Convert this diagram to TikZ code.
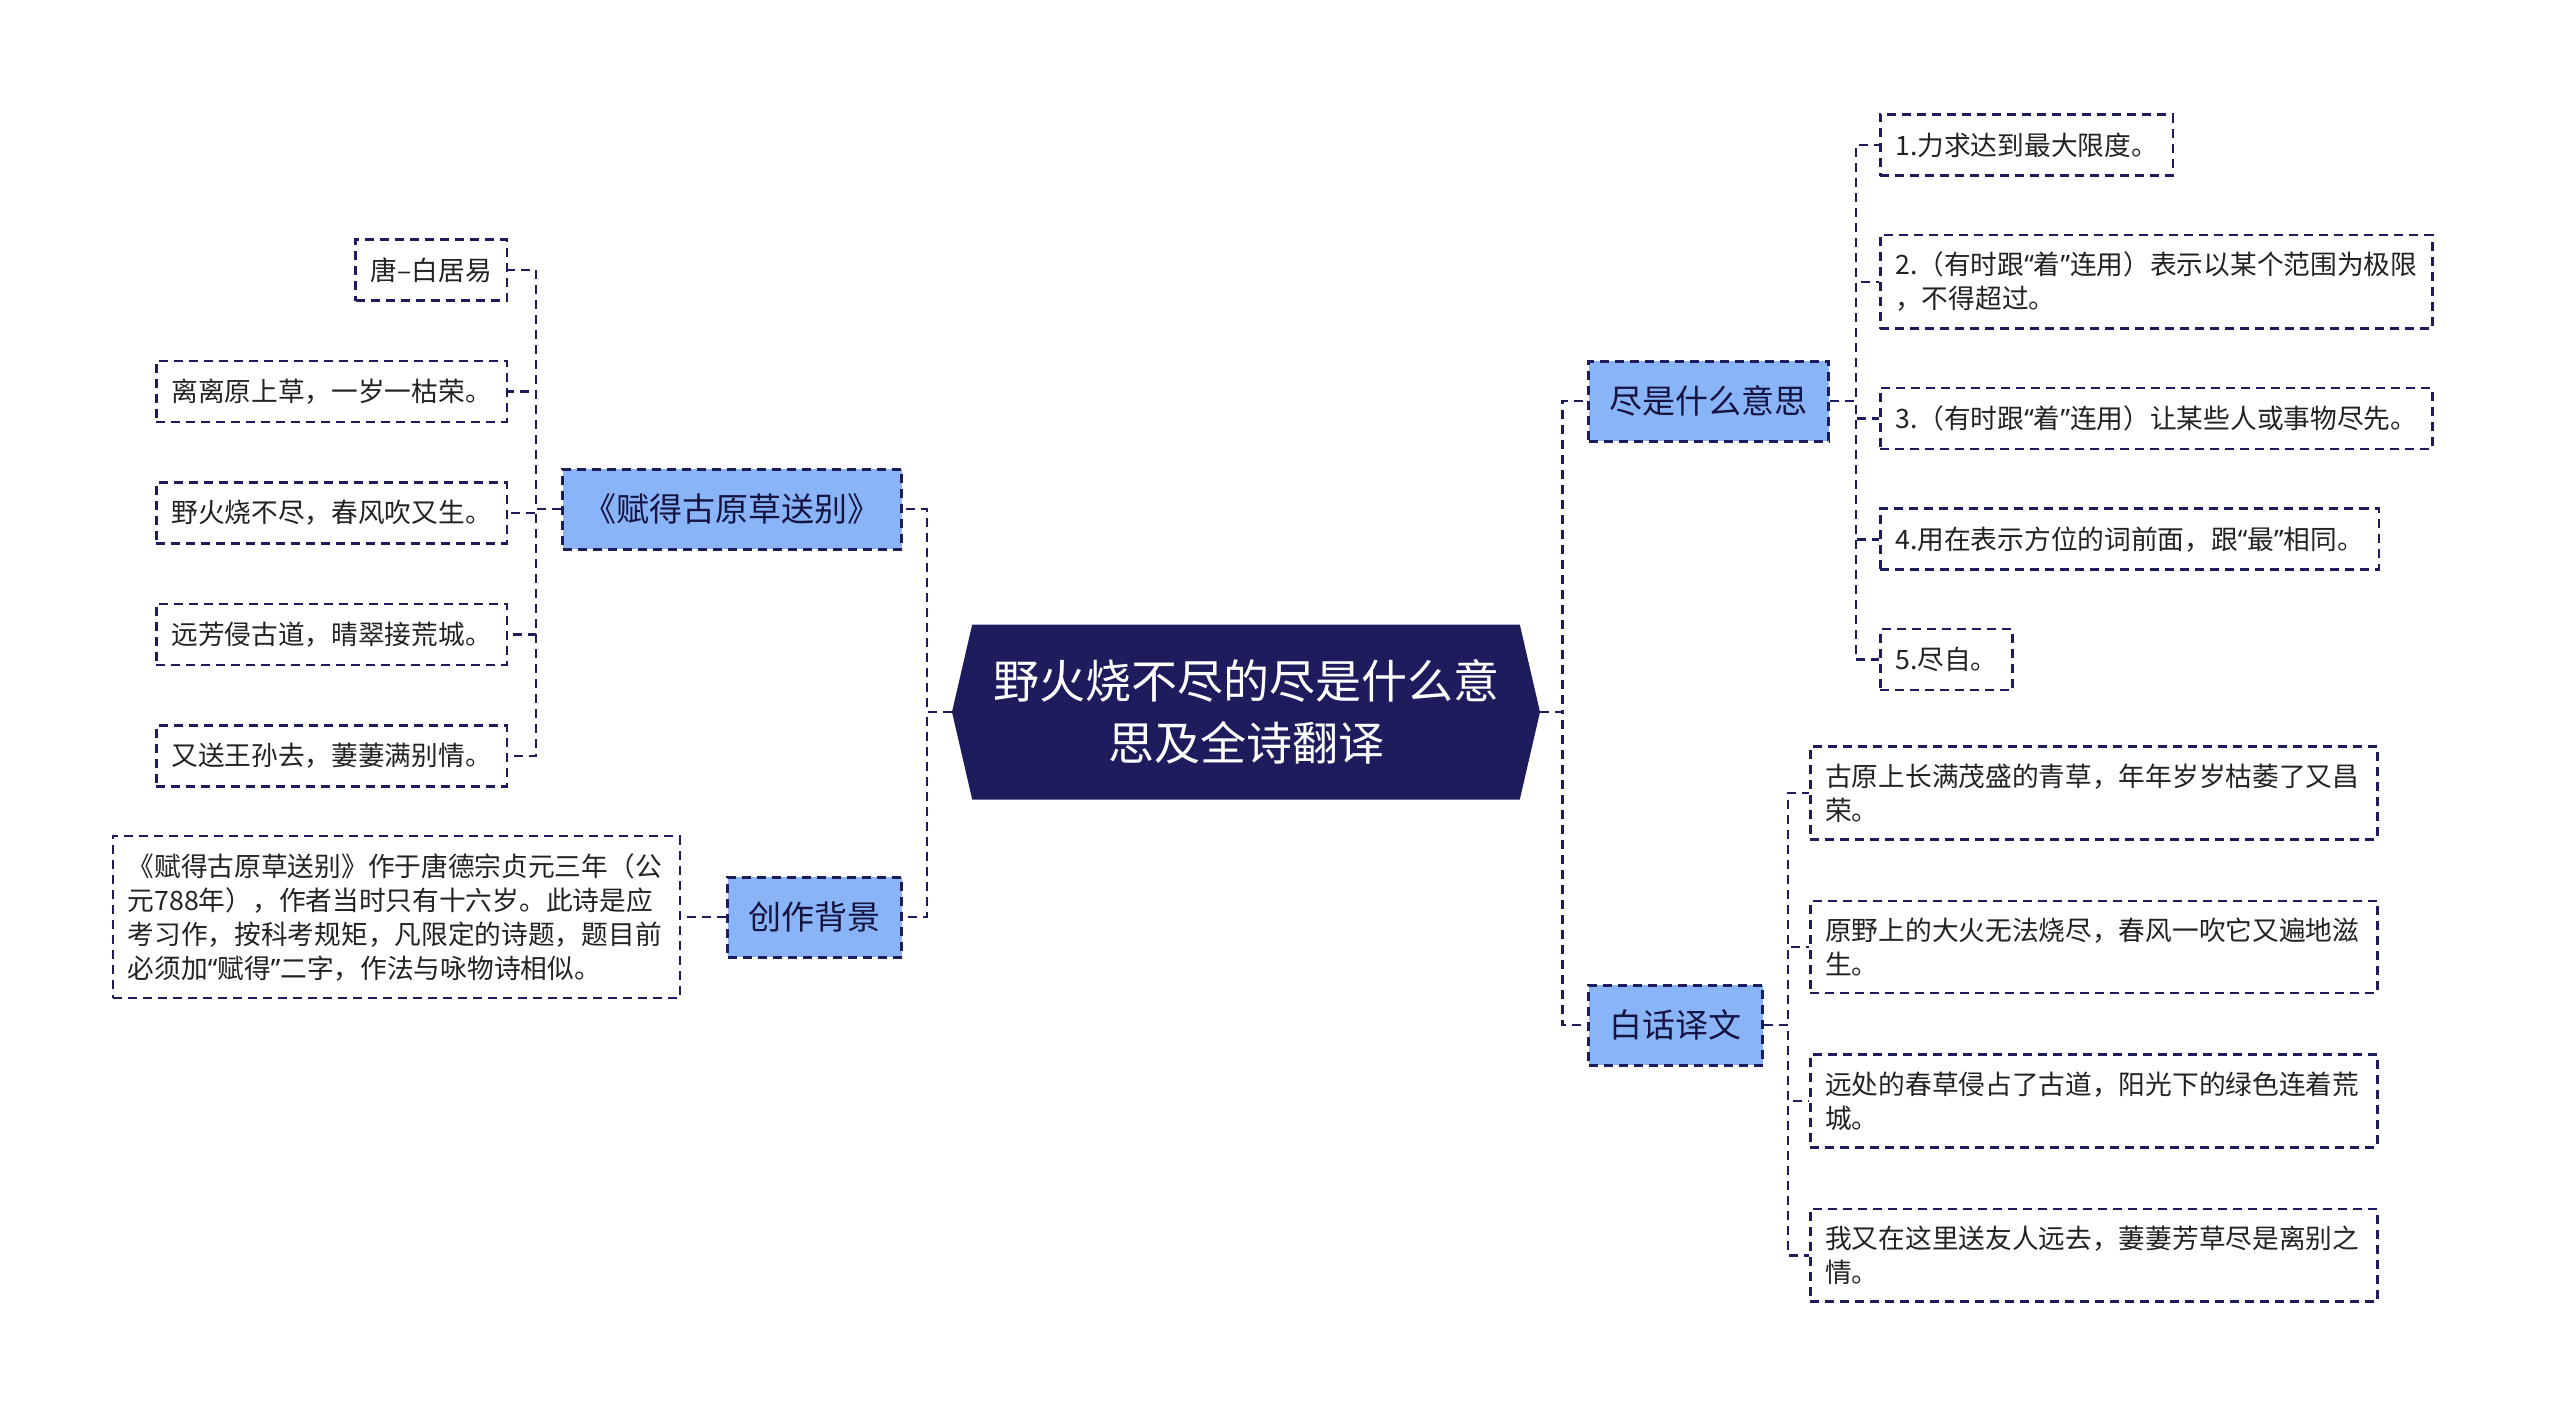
\documentclass[tikz,border=0pt]{standalone}
\usepackage{fontspec}
\setmainfont{Noto Sans CJK SC}
\newfontfamily\latinquote{Noto Sans}
\newcommand{\lquo}{{\latinquote “}}
\newcommand{\rquo}{{\latinquote ”}}
\usetikzlibrary{positioning,shapes.symbols}
\definecolor{navy}{HTML}{1E1C5C}
\definecolor{topicblue}{HTML}{8AB4F8}
\definecolor{leaftext}{HTML}{222222}

\begin{document}
\begin{tikzpicture}[
    x=1pt, y=-1pt,
    root/.style={
        shape=signal,
        signal to=west and east,
        signal pointer angle=154,
        fill=navy,
        text=white,
        minimum width=588pt,
        minimum height=175pt,
        inner sep=0pt,
        align=center,
        font=\fontsize{46}{62}\selectfont
    },
    topic/.style={
        rectangle,
        draw=navy,
        line width=3pt,
        dash pattern=on 9pt off 6pt,
        fill=topicblue,
        text=navy!70!black,
        minimum height=80pt,
        inner xsep=21pt,
        font=\fontsize{33}{40}\selectfont
    },
    leaf/.style={
        rectangle,
        draw=navy,
        line width=2.5pt,
        dash pattern=on 9pt off 6pt,
        text=leaftext,
        minimum height=61pt,
        inner xsep=15pt,
        inner ysep=17pt,
        align=left,
        font=\fontsize{26.7}{34}\selectfont
    },
    wide leaf/.style={leaf, text width=537pt},
    link/.style={draw=navy, line width=2.6pt, dash pattern=on 9pt off 6pt}
]
\useasboundingbox (0,0) rectangle (2560,1419);

% Central topic
\node [root] (ctr) at (1246,712) {野火烧不尽的尽是什么意\\思及全诗翻译};

% Main topics
\node [topic, anchor=east] (poem) at (903,509) {《赋得古原草送别》};
\node [topic, anchor=east] (bg) at (903,917) {创作背景};
\node [topic, anchor=west] (jin) at (1587,401) {尽是什么意思};
\node [topic, anchor=west] (bai) at (1587,1025) {白话译文};

% Poem lines
\node [leaf, anchor=east] (p1) at (508,270) {唐–白居易};
\node [leaf, below=58pt of p1.south east, anchor=north east] (p2) {离离原上草，一岁一枯荣。};
\node [leaf, below=58pt of p2.south east, anchor=north east] (p3) {野火烧不尽，春风吹又生。};
\node [leaf, below=58pt of p3.south east, anchor=north east] (p4) {远芳侵古道，晴翠接荒城。};
\node [leaf, below=58pt of p4.south east, anchor=north east] (p5) {又送王孙去，萋萋满别情。};

% Background
\node [wide leaf, anchor=east] (bgtext) at (681,917) {《赋得古原草送别》作于唐德宗贞元三年（公\\
    元788年），作者当时只有十六岁。此诗是应\\
    考习作，按科考规矩，凡限定的诗题，题目前\\
    必须加\lquo 赋得\rquo 二字，作法与咏物诗相似。};

% Meanings of jin
\node [leaf, anchor=west] (j1) at (1879,145) {1.力求达到最大限度。};
\node [leaf, below=57pt of j1.south west, anchor=north west] (j2) {2.（有时跟\lquo 着\rquo 连用）表示以某个范围为极限\\，不得超过。};
\node [leaf, below=57pt of j2.south west, anchor=north west] (j3) {3.（有时跟\lquo 着\rquo 连用）让某些人或事物尽先。};
\node [leaf, below=57pt of j3.south west, anchor=north west] (j4) {4.用在表示方位的词前面，跟\lquo 最\rquo 相同。};
\node [leaf, below=57pt of j4.south west, anchor=north west] (j5) {5.尽自。};

% Translation
\node [wide leaf, anchor=west] (b1) at (1809,793) {古原上长满茂盛的青草，年年岁岁枯萎了又昌\\荣。};
\node [wide leaf, below=59pt of b1.south west, anchor=north west] (b2) {原野上的大火无法烧尽，春风一吹它又遍地滋\\生。};
\node [wide leaf, below=59pt of b2.south west, anchor=north west] (b3) {远处的春草侵占了古道，阳光下的绿色连着荒\\城。};
\node [wide leaf, below=59pt of b3.south west, anchor=north west] (b4) {我又在这里送友人远去，萋萋芳草尽是离别之\\情。};

% Connections
\draw [link] (ctr.west) -- ++(-25,0) |- (poem.east);
\draw [link] (ctr.west) -- ++(-25,0) |- (bg.east);
\draw [link] (ctr.east) -- ++(22,0) |- (jin.west);
\draw [link] (ctr.east) -- ++(22,0) |- (bai.west);
\foreach \i in {1,...,5}
    \draw [link] (poem.west) -- ++(-25,0) |- (p\i.east);
\draw [link] (bg.west) -- (bgtext.east);
\foreach \i in {1,...,5}
    \draw [link] (jin.east) -- ++(26,0) |- (j\i.west);
\foreach \i in {1,...,4}
    \draw [link] (bai.east) -- ++(24,0) |- (b\i.west);

\end{tikzpicture}
\end{document}
